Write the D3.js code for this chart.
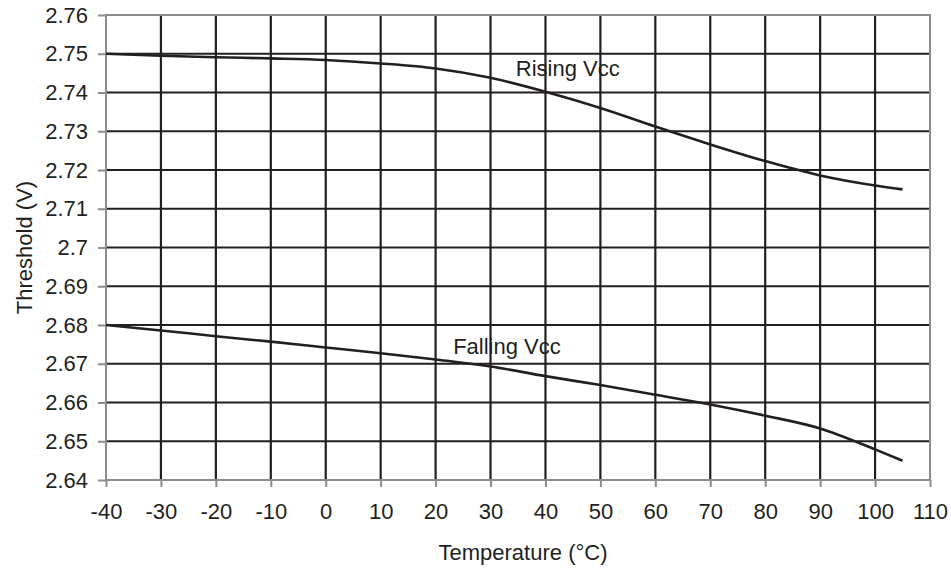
<!DOCTYPE html>
<html>
<head>
<meta charset="utf-8">
<script src="https://cdn.jsdelivr.net/npm/d3@7"></script>
<style>
  body { margin: 0; background: #fff; }
  text { font-family: "Liberation Sans", Arial, sans-serif; fill: #231f20; }
</style>
</head>
<body>
<svg width="951" height="569"></svg>
<script>
const width = 951,
    height = 569,
    margin = { top: 15, right: 21, bottom: 89, left: 106 },
    fontSize = '22px';

// temperature points (°C)
const temps = [-40, -30, -20, -10, 0, 10, 20, 30, 40, 50, 60, 70, 80, 90, 100, 105];
// threshold values (V)
const rising = [2.7500, 2.7495, 2.7491, 2.7488, 2.7484, 2.7475, 2.7462, 2.7438, 2.7402, 2.7360, 2.7312, 2.7266, 2.7223, 2.7186, 2.7160, 2.7150];
const falling = [2.6800, 2.6786, 2.6771, 2.6757, 2.6742, 2.6727, 2.6711, 2.6693, 2.6668, 2.6645, 2.6620, 2.6595, 2.6566, 2.6533, 2.6479, 2.6450];

const xTicks = [-40, -30, -20, -10, 0, 10, 20, 30, 40, 50, 60, 70, 80, 90, 100, 110];
const yTicks = [2.64, 2.65, 2.66, 2.67, 2.68, 2.69, 2.7, 2.71, 2.72, 2.73, 2.74, 2.75, 2.76];

const series = [
    { name: 'Rising Vcc', values: rising, labelAt: [34.6, 2.7442] },
    { name: 'Falling Vcc', values: falling, labelAt: [23.2, 2.6724] }
];

const svg = d3.select('svg');
const w = width - margin.left - margin.right,
    h = height - margin.top - margin.bottom;

const x = d3.scaleLinear().domain([-40, 110]).range([0, w]);
const y = d3.scaleLinear().domain([2.64, 2.76]).range([h, 0]);

const g = svg.append('g').attr('transform', 'translate(' + margin.left + ',' + margin.top + ')');

// grid
g.append('g').selectAll('line')
    .data(yTicks.slice(1, -1))
    .enter().append('line')
    .attr('x1', 0).attr('x2', w)
    .attr('y1', d => y(d)).attr('y2', d => y(d))
    .attr('stroke', '#231f20').attr('stroke-width', 2.2);

g.append('g').selectAll('line')
    .data(xTicks.slice(1, -1))
    .enter().append('line')
    .attr('y1', 0).attr('y2', h)
    .attr('x1', d => x(d)).attr('x2', d => x(d))
    .attr('stroke', '#231f20').attr('stroke-width', 2.2);

// frame
g.append('rect')
    .attr('width', w).attr('height', h)
    .attr('fill', 'none').attr('stroke', '#8c8c8c').attr('stroke-width', 2);

// axes
const xAxis = g.append('g')
    .attr('transform', 'translate(0,' + h + ')')
    .call(d3.axisBottom(x).tickValues(xTicks).tickSize(7).tickPadding(16).tickFormat(d => String(d)));
const yAxis = g.append('g')
    .call(d3.axisLeft(y).tickValues(yTicks).tickSize(8).tickPadding(10).tickFormat(d => String(+d.toFixed(2))));

[xAxis, yAxis].forEach(a => {
    a.select('.domain').remove();
    a.selectAll('.tick line').attr('stroke', '#8c8c8c').attr('stroke-width', 2);
    a.selectAll('.tick text').style('font-size', fontSize).attr('fill', '#231f20');
});
xAxis.selectAll('.tick text').attr('dy', '0.71em');

// curves
const line = d3.line()
    .x((d, i) => x(temps[i]))
    .y(d => y(d))
    .curve(d3.curveMonotoneX);

series.forEach(s => {
    g.append('path')
        .datum(s.values)
        .attr('fill', 'none')
        .attr('stroke', '#231f20')
        .attr('stroke-width', 2.6)
        .attr('d', line);

    g.append('text')
        .attr('x', x(s.labelAt[0]))
        .attr('y', y(s.labelAt[1]))
        .style('font-size', fontSize)
        .text(s.name);
});

// axis titles
svg.append('text')
    .attr('x', 523)
    .attr('y', 560)
    .attr('text-anchor', 'middle')
    .style('font-size', fontSize)
    .text('Temperature (°C)');

svg.append('text')
    .attr('transform', 'translate(32,' + (margin.top + h / 2) + ') rotate(-90)')
    .attr('text-anchor', 'middle')
    .style('font-size', fontSize)
    .text('Threshold (V)');
</script>
</body>
</html>
